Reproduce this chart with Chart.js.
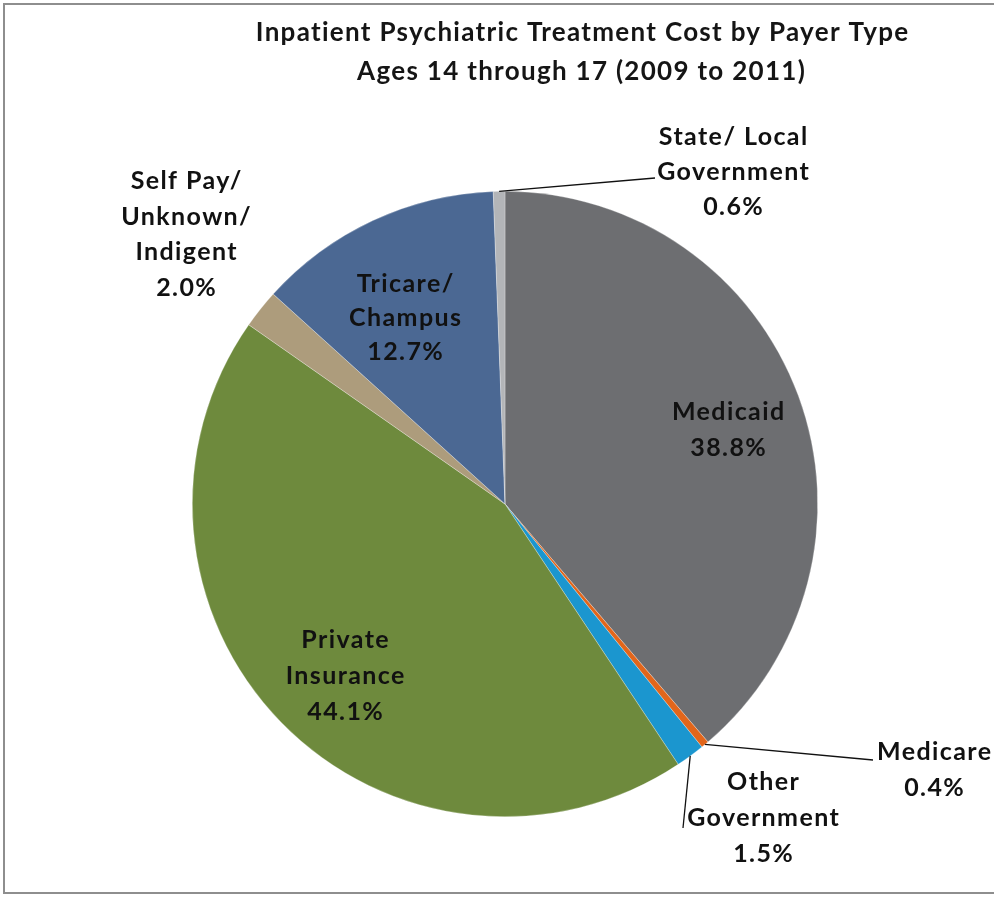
<!DOCTYPE html>
<html>
<head>
<meta charset="utf-8">
<title>Inpatient Psychiatric Treatment Cost by Payer Type</title>
<script src="https://cdn.jsdelivr.net/npm/chart.js@4.4.1/dist/chart.umd.min.js"></script>
<style>
  html, body { margin: 0; padding: 0; background: #fff; overflow: hidden; }
  #wrap { position: relative; width: 994px; height: 899px; }
  #frame { position: absolute; left: 3px; top: 3px; width: 1000px; height: 891px; border: 2px solid #8e8e8e; box-sizing: border-box; pointer-events: none; }
  canvas { position: absolute; left: 0; top: 0; }
</style>
</head>
<body>
<div id="wrap">
  <canvas id="chartPayer" width="994" height="899"></canvas>
  <div id="frame"></div>
</div>
<script>
// slices go clockwise from 12 o'clock
const titleLines = ['Inpatient Psychiatric Treatment Cost by Payer Type', 'Ages 14 through 17 (2009 to 2011)'];
const payers = ['Medicaid', 'Medicare', 'Other Government', 'Private Insurance', 'Self Pay/ Unknown/ Indigent', 'Tricare/ Champus', 'State/ Local Government'];
const payerLines = [['Medicaid'], ['Medicare'], ['Other', 'Government'], ['Private', 'Insurance'], ['Self Pay/', 'Unknown/', 'Indigent'], ['Tricare/', 'Champus'], ['State/ Local', 'Government']];
const shares = [38.8, 0.4, 1.5, 44.1, 2.0, 12.7, 0.6];

const COLORS = ['#6d6e71', '#e2661b', '#1b96cf', '#6e8a3d', '#ad9c7c', '#4b6893', '#b3b5b8'];
const FONT = 'Lato, "Open Sans", sans-serif';

// label placement: centre x, first line y, line gap, leader end (null = no leader)
const LABEL_POS = [
  { x: 728, y: 412, gap: 36, leader: null },
  { x: 934, y: 752, gap: 36, leader: [873, 760] },
  { x: 763, y: 782, gap: 36, leader: [683, 828] },
  { x: 345, y: 640, gap: 36, leader: null },
  { x: 186, y: 181, gap: 35.5, leader: null },
  { x: 405, y: 284, gap: 34, leader: null },
  { x: 733, y: 137, gap: 35, leader: [655, 178] }
];

function spacedText(ctx, text, x, y, spacing) {
  // letterSpacing adds a trailing gap, so shift back half of it
  ctx.letterSpacing = spacing + 'px';
  ctx.fillText(text, x + spacing / 2, y);
  ctx.letterSpacing = '0px';
}

const labelPlugin = {
  id: 'payerLabels',
  afterDraw(chart) {
    const ctx = chart.ctx;
    ctx.save();
    ctx.fillStyle = '#151515';
    ctx.textAlign = 'center';
    ctx.textBaseline = 'middle';
    ctx.font = 'bold 26px ' + FONT;
    spacedText(ctx, titleLines[0], 582, 33, 1.3);
    spacedText(ctx, titleLines[1], 581, 72, 1.3);

    const arcs = chart.getDatasetMeta(0).data;
    ctx.font = 'bold 25px ' + FONT;
    arcs.forEach((arc, i) => {
      const p = LABEL_POS[i];
      if (p.leader) {
        const mid = (arc.startAngle + arc.endAngle) / 2;
        const ax = arc.x + Math.cos(mid) * arc.outerRadius;
        const ay = arc.y + Math.sin(mid) * arc.outerRadius;
        ctx.strokeStyle = '#111';
        ctx.lineWidth = 1.3;
        ctx.beginPath();
        ctx.moveTo(ax, ay);
        ctx.lineTo(p.leader[0], p.leader[1]);
        ctx.stroke();
      }
      const lines = payerLines[i].concat([shares[i].toFixed(1) + '%']);
      ctx.fillStyle = '#111';
      lines.forEach((t, k) => spacedText(ctx, t, p.x, p.y + k * p.gap, 1.4));
    });
    ctx.restore();
  }
};

new Chart(document.getElementById('chartPayer').getContext('2d'), {
  type: 'pie',
  data: {
    labels: payers,
    datasets: [{ data: shares, backgroundColor: COLORS, borderWidth: 0.6, borderColor: 'rgba(255,255,255,0.45)' }]
  },
  options: {
    responsive: false,
    animation: false,
    layout: { padding: { left: 192, right: 176, top: 191, bottom: 82 } },
    plugins: { legend: { display: false }, title: { display: false }, tooltip: { enabled: false } }
  },
  plugins: [labelPlugin]
});
</script>
</body>
</html>
